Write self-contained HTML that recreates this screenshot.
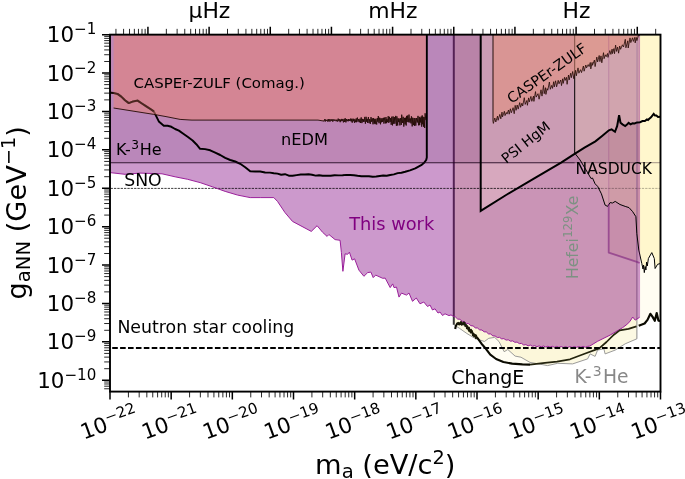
<!DOCTYPE html>
<html><head><meta charset="utf-8"><title>Axion-neutron coupling limits</title>
<style>html,body{margin:0;padding:0;background:#fff}svg{display:block;will-change:transform}</style></head>
<body>
<svg width="685" height="479" viewBox="0 0 685 479" font-family="'DejaVu Sans', 'Liberation Sans', sans-serif">
<rect width="685" height="479" fill="#fff"/>
<defs><clipPath id="ax"><rect x="110.00" y="34.65" width="550.50" height="356.95"/></clipPath></defs>
<g clip-path="url(#ax)" stroke-linejoin="round">
<polygon points="455.2,329.0 455.8,326.0 457.4,323.3 459.0,324.2 460.5,322.6 462.0,324.0 464.0,323.3 466.0,325.5 468.4,328.4 474.2,334.9 477.9,338.6 481.5,343.7 485.9,348.8 490.3,354.7 496.1,359.0 503.4,362.0 512.2,363.6 522.4,364.4 530.0,364.6 545.0,362.9 557.0,361.6 570.0,359.3 584.6,353.8 599.2,348.4 606.5,342.0 613.9,334.7 619.7,330.4 628.5,328.9 636.5,326.4 638.7,325.7 644.6,323.5 647.5,319.9 650.4,313.8 652.6,316.9 654.8,320.8 656.7,313.1 658.4,320.6 660.5,321.0 660.5,32.6 455.2,32.6" fill="#fff6b8" fill-opacity="0.18"/>
<polygon points="453.8,34.6 453.8,324.7 459.6,328.4 466.9,333.5 474.2,337.9 484.4,341.5 488.8,338.3 494.7,337.4 499.0,341.5 504.2,351.7 507.8,349.5 515.1,356.1 520.9,357.2 530.0,362.4 540.2,364.2 547.5,365.6 557.7,363.3 572.6,363.9 587.6,358.9 590.1,353.9 595.1,356.4 597.6,350.1 603.9,348.8 605.1,353.9 615.2,350.1 625.2,343.8 636.9,338.8 636.9,34.6 636.9,32.6 453.8,32.6" fill="#f5e9a0" fill-opacity="0.29"/>
<polygon points="574.7,34.6 574.7,153.0 580.1,160.0 587.6,172.6 591.0,178.5 592.5,178.0 595.1,183.8 597.6,186.3 601.4,193.8 605.1,205.1 607.6,206.4 610.1,202.6 612.5,203.0 615.2,201.4 620.0,204.5 625.2,206.4 629.0,207.6 632.7,211.7 635.9,216.7 636.8,233.4 638.8,250.1 641.8,263.5 643.0,269.0 643.6,265.0 644.3,272.6 645.2,266.5 645.9,270.0 646.6,262.0 647.3,266.0 648.4,258.5 651.8,252.6 654.3,258.5 655.1,268.5 657.6,264.3 660.5,263.5 660.5,32.6 574.7,32.6" fill="#fff0a0" fill-opacity="0.45"/>
<rect x="110.0" y="34.6" width="529.6" height="128.0" fill="#555" fill-opacity="0.17"/>
<polygon points="608.7,34.6 608.7,252.6 636.8,261.8 639.6,263.0 639.6,34.6" fill="#d8a860" fill-opacity="0.13"/>
<polyline points="453.8,324.7 459.6,328.4 466.9,333.5 474.2,337.9 484.4,341.5 488.8,338.3 494.7,337.4 499.0,341.5 504.2,351.7 507.8,349.5 515.1,356.1 520.9,357.2 530.0,362.4 540.2,364.2 547.5,365.6 557.7,363.3 572.6,363.9 587.6,358.9 590.1,353.9 595.1,356.4 597.6,350.1 603.9,348.8 605.1,353.9 615.2,350.1 625.2,343.8 636.9,338.8" fill="none" stroke="#909090" stroke-width="0.9" stroke-opacity="1" />
<polyline points="453.8,34.6 453.8,324.7" fill="none" stroke="#3a3a3a" stroke-width="2.0" stroke-opacity="1" />
<polyline points="636.9,338.8 636.9,34.6" fill="none" stroke="#8a8a8a" stroke-width="1.0" stroke-opacity="1" />
<polygon points="110.0,172.6 125.0,174.3 140.0,173.1 162.0,173.8 175.1,176.8 187.6,179.3 200.1,182.6 212.7,186.9 225.2,191.4 237.7,195.1 250.2,197.6 260.2,197.6 273.8,197.6 277.5,201.4 285.0,212.6 292.5,221.4 311.3,231.4 317.1,225.7 322.6,232.3 327.1,236.4 328.9,234.5 335.1,239.6 340.1,240.3 341.4,252.6 342.9,271.3 345.1,253.8 347.6,254.3 349.4,252.1 352.1,260.1 354.6,258.8 358.9,270.1 363.9,276.3 367.7,272.6 370.9,272.1 373.2,277.6 375.7,275.1 382.7,278.3 385.2,278.1 390.2,287.6 392.7,283.9 394.0,287.6 396.5,287.1 399.0,297.1 401.5,293.1 406.5,295.1 409.0,293.0 412.5,301.3 416.3,298.0 420.0,303.8 423.8,302.0 427.5,306.5 430.0,305.0 432.5,310.0 435.0,308.8 438.0,313.0 440.0,312.0 442.5,315.5 445.0,313.8 449.0,315.6 451.0,314.9 453.8,316.6 455.5,317.0 457.7,319.1 459.9,319.3 462.1,321.3 464.3,321.5 466.5,323.5 468.7,323.7 470.9,325.7 473.1,325.9 475.3,327.9 477.5,328.0 479.7,329.9 481.9,330.0 484.1,331.8 486.3,331.9 488.5,333.9 490.7,334.0 492.9,335.9 495.1,336.0 497.3,337.5 499.5,337.3 501.7,338.9 503.9,338.6 506.1,340.1 508.3,339.8 510.5,341.2 512.7,340.9 514.9,342.3 517.1,342.1 519.3,343.6 521.5,343.4 523.7,345.0 525.9,344.6 528.1,345.8 530.3,345.1 532.5,346.3 534.7,345.7 536.9,346.7 539.1,345.9 541.3,346.9 543.5,346.0 545.7,347.0 547.9,346.2 550.1,347.2 552.3,346.3 554.5,347.3 556.7,346.4 558.9,347.4 561.1,346.5 563.3,347.5 565.5,346.6 567.7,347.5 569.9,346.6 572.1,347.5 574.3,346.5 576.5,347.4 578.7,346.5 580.9,347.3 583.1,346.4 585.3,347.3 587.5,346.4 589.7,346.1 597.6,341.3 610.1,335.1 622.7,327.6 627.7,323.8 630.2,321.0 632.7,317.0 635.2,320.1 637.0,319.0 639.6,317.3 639.6,32.6 110.0,32.6" fill="#800080" fill-opacity="0.40"/>
<polygon points="574.7,34.6 574.7,153.0 580.1,160.0 587.6,172.6 591.0,178.5 592.5,178.0 595.1,183.8 597.6,186.3 601.4,193.8 605.1,205.1 607.6,206.4 610.1,202.6 612.5,203.0 615.2,201.4 620.0,204.5 625.2,206.4 629.0,207.6 632.7,211.7 635.9,216.7 636.8,233.4 636.9,234.0 636.9,32.6 574.7,32.6" fill="#fff6e6" fill-opacity="0.14"/>
<polygon points="480.7,34.6 480.7,210.9 506.1,195.0 533.0,179.2 561.1,162.7 575.0,153.6 584.5,147.6 595.4,141.4 602.1,136.0 608.9,130.3 611.6,129.4 615.0,131.8 617.1,126.2 619.1,115.2 620.5,122.8 622.5,124.4 625.2,126.0 627.0,124.6 628.6,122.9 630.6,124.3 632.5,123.3 634.7,123.5 637.0,122.4 639.6,122.2 639.6,32.6 480.7,32.6" fill="#f4d8d2" fill-opacity="0.30"/>
<polyline points="574.7,34.6 574.7,153.0 580.1,160.0 587.6,172.6 591.0,178.5 592.5,178.0 595.1,183.8 597.6,186.3 601.4,193.8 605.1,205.1 607.6,206.4 610.1,202.6 612.5,203.0 615.2,201.4 620.0,204.5 625.2,206.4 629.0,207.6 632.7,211.7 635.9,216.7 636.8,233.4 638.8,250.1 641.8,263.5 643.0,269.0 643.6,265.0 644.3,272.6 645.2,266.5 645.9,270.0 646.6,262.0 647.3,266.0 648.4,258.5 651.8,252.6 654.3,258.5 655.1,268.5 657.6,264.3 660.5,263.5" fill="none" stroke="#000" stroke-width="1.0" stroke-opacity="1" />
<polygon points="493.0,34.6 493.0,121.5 493.4,123.4 494.8,118.0 495.8,122.0 497.5,116.1 498.1,120.3 499.8,114.4 500.8,118.8 502.0,112.1 502.5,116.9 504.4,111.3 505.0,115.6 506.3,112.5 507.0,114.1 508.5,110.0 509.2,114.2 510.4,108.8 511.3,112.8 513.1,107.7 514.2,113.7 515.2,105.4 516.1,110.3 517.2,105.0 518.2,109.1 519.7,102.6 520.6,107.3 521.9,103.2 522.7,106.0 524.3,97.7 525.2,104.4 526.8,100.5 527.4,105.3 528.6,97.9 529.3,101.9 530.9,96.4 531.8,101.3 533.5,96.1 533.9,101.4 535.5,91.6 536.2,97.1 538.0,93.7 539.1,99.2 541.0,89.8 542.0,96.1 543.5,85.4 544.2,93.7 545.5,87.7 545.9,94.4 547.1,88.6 547.8,90.2 549.4,82.0 550.3,89.3 551.7,85.4 552.5,88.4 553.7,81.7 554.3,86.9 555.6,80.8 556.6,86.8 558.2,80.3 559.0,83.8 560.7,80.0 561.5,85.6 562.6,78.8 563.2,83.4 564.5,77.3 565.2,80.4 566.4,77.3 567.1,84.3 568.5,75.0 569.2,79.9 570.7,73.2 571.4,77.7 572.7,71.5 573.8,78.7 575.6,70.3 576.3,75.8 578.0,67.9 578.9,73.2 580.5,69.7 581.5,72.6 583.4,66.0 584.1,71.2 585.8,65.0 586.5,67.9 588.2,64.6 589.1,66.6 590.3,62.5 590.8,68.9 592.1,62.4 592.5,65.3 594.4,60.1 595.1,66.6 596.8,57.1 597.6,61.9 599.2,55.5 599.9,61.6 601.0,55.9 601.8,62.8 603.5,52.7 604.1,58.7 605.3,54.8 606.2,56.7 607.5,53.5 608.0,57.4 609.8,50.6 610.9,54.4 612.1,49.1 612.5,53.6 613.9,48.6 614.5,53.7 615.6,45.1 616.5,51.4 617.6,47.1 618.6,53.2 619.7,46.0 620.6,49.3 622.4,44.8 623.5,47.0 625.3,39.3 625.9,47.8 627.8,40.8 628.2,48.0 630.0,37.9 630.8,42.6 632.5,37.8 633.4,41.4 634.7,37.4 635.2,42.9 636.2,37.4 636.9,40.6 638.8,34.1 639.6,36.1 639.6,32.6 493.0,32.6" fill="#e58f7a" fill-opacity="0.55"/>
<polygon points="110.0,92.6 113.8,93.1 117.5,93.9 121.3,96.6 125.0,100.2 128.8,103.1 133.2,101.4 137.6,100.6 141.9,103.5 146.3,106.4 150.1,108.8 153.8,111.4 158.8,121.4 163.8,125.8 167.6,125.8 171.4,126.8 175.1,129.0 178.9,130.6 182.6,133.3 187.6,136.8 192.6,140.5 196.3,144.2 200.1,148.8 205.1,149.1 210.2,150.3 215.2,152.6 220.2,155.0 225.2,157.9 230.2,160.0 235.2,161.5 240.2,163.8 245.2,167.2 250.2,171.3 255.2,171.5 260.2,171.5 265.1,172.5 270.0,172.6 273.8,173.2 277.5,173.6 281.2,174.7 285.0,174.2 288.8,175.7 292.5,175.8 296.7,175.1 300.8,174.5 305.0,174.5 308.5,174.3 312.0,174.8 315.6,175.6 319.1,175.2 322.6,175.8 326.6,175.8 330.6,175.7 334.6,175.3 338.6,175.4 342.6,175.2 346.4,174.9 350.1,175.0 353.9,175.3 357.6,175.8 361.4,176.2 365.1,176.2 368.9,176.3 372.7,176.8 376.2,176.5 379.7,176.0 383.2,175.5 386.7,175.7 390.2,175.0 393.9,174.4 397.7,173.1 401.4,172.7 405.2,171.8 410.0,170.4 415.3,168.4 421.2,165.2 424.4,162.4 426.2,160.0 426.8,157.5 426.8,34.6 426.8,32.6 110.0,32.6" fill="#ff8a8a" fill-opacity="0.07"/>
<polyline points="110.0,92.6 113.8,93.1 117.5,93.9 121.3,96.6 125.0,100.2 128.8,103.1 133.2,101.4 137.6,100.6 141.9,103.5 146.3,106.4 150.1,108.8 153.8,111.4 158.8,121.4 163.8,125.8 167.6,125.8 171.4,126.8 175.1,129.0 178.9,130.6 182.6,133.3 187.6,136.8 192.6,140.5 196.3,144.2 200.1,148.8 205.1,149.1 210.2,150.3 215.2,152.6 220.2,155.0 225.2,157.9 230.2,160.0 235.2,161.5 240.2,163.8 245.2,167.2 250.2,171.3 255.2,171.5 260.2,171.5 265.1,172.5 270.0,172.6 273.8,173.2 277.5,173.6 281.2,174.7 285.0,174.2 288.8,175.7 292.5,175.8 296.7,175.1 300.8,174.5 305.0,174.5 308.5,174.3 312.0,174.8 315.6,175.6 319.1,175.2 322.6,175.8 326.6,175.8 330.6,175.7 334.6,175.3 338.6,175.4 342.6,175.2 346.4,174.9 350.1,175.0 353.9,175.3 357.6,175.8 361.4,176.2 365.1,176.2 368.9,176.3 372.7,176.8 376.2,176.5 379.7,176.0 383.2,175.5 386.7,175.7 390.2,175.0 393.9,174.4 397.7,173.1 401.4,172.7 405.2,171.8 410.0,170.4 415.3,168.4 421.2,165.2 424.4,162.4 426.2,160.0 426.8,157.5 426.8,34.6" fill="none" stroke="#000" stroke-width="1.95" stroke-opacity="1" />
<polygon points="113.6,108.0 153.8,114.4 166.0,116.6 180.1,119.4 190.0,120.0 192.0,120.1 198.0,120.1 204.0,120.1 210.0,120.1 216.0,120.1 222.0,120.1 228.0,120.1 234.0,120.1 240.0,120.1 246.0,120.1 252.0,120.1 258.0,120.1 264.0,120.1 270.0,120.1 276.0,120.1 282.0,120.1 288.0,120.1 294.0,120.1 300.0,120.1 306.0,120.1 312.0,120.1 318.0,120.1 324.0,121.1 324.7,119.2 325.2,121.6 325.7,119.5 326.4,120.8 327.0,119.9 327.6,121.5 328.2,119.0 328.8,121.4 329.4,119.3 330.0,121.6 330.7,119.4 331.4,120.8 332.0,119.1 332.8,121.7 333.3,119.4 334.0,120.8 334.5,119.6 335.0,120.8 335.7,119.7 336.2,121.3 336.9,119.7 337.5,121.5 338.2,118.6 338.9,121.2 339.5,119.3 340.2,122.2 340.7,119.5 341.2,121.2 341.8,118.9 342.3,120.8 342.8,119.2 343.4,122.4 344.1,118.9 344.7,122.0 345.2,118.2 345.9,122.4 346.6,119.0 347.1,121.1 347.7,119.6 348.2,121.3 348.6,119.0 349.1,120.9 349.5,119.5 350.1,121.0 350.8,118.5 351.2,121.5 351.8,118.9 352.2,122.7 353.0,118.7 353.6,121.2 354.0,118.9 354.5,122.8 355.0,119.5 355.7,122.2 356.2,118.4 356.6,122.2 357.4,117.6 358.0,121.7 358.6,119.1 359.3,122.3 360.0,118.7 360.5,123.0 361.2,117.4 361.9,123.1 362.6,118.9 363.2,122.0 363.6,119.4 364.1,121.8 364.8,116.9 365.4,123.7 366.1,116.8 366.7,121.8 367.2,118.9 367.6,122.9 368.4,117.0 369.0,123.1 369.7,119.1 370.3,123.9 371.0,117.1 371.6,121.8 372.3,118.3 373.0,124.3 373.6,118.1 374.3,123.6 374.8,118.9 375.2,124.2 375.9,118.8 376.7,124.5 377.3,118.1 377.9,121.8 378.3,116.0 379.0,123.2 379.7,117.7 380.5,124.3 380.9,118.3 381.4,122.3 382.1,118.2 382.6,121.9 383.4,117.8 383.9,123.6 384.7,117.5 385.4,123.4 386.0,117.1 386.5,123.2 386.9,119.0 387.6,122.2 388.2,116.2 388.8,122.9 389.4,116.8 390.1,122.0 390.7,118.0 391.2,124.8 391.8,116.7 392.5,125.4 393.1,116.4 393.7,123.8 394.3,117.0 394.9,123.7 395.7,115.9 396.4,125.8 396.9,116.4 397.7,125.5 398.1,118.3 398.7,122.1 399.2,118.5 399.9,125.4 400.6,118.1 401.3,124.9 401.7,114.7 402.5,122.9 403.2,116.8 403.8,126.6 404.5,117.9 405.1,124.4 405.6,117.7 406.2,125.5 406.6,115.9 407.1,122.0 407.7,115.5 408.3,122.3 409.0,114.6 409.8,122.5 410.3,118.4 411.0,123.4 411.4,116.3 412.2,126.4 412.7,117.7 413.4,125.1 414.1,118.0 414.5,125.8 415.1,118.1 415.8,125.6 416.6,118.0 417.3,122.5 418.0,115.9 418.5,125.3 419.3,116.9 419.7,125.2 420.2,117.7 420.7,122.5 421.2,116.5 421.7,126.7 422.2,115.4 422.7,124.3 423.1,116.8 423.5,126.7 424.1,117.1 424.7,128.0 425.1,113.3 425.8,120.1 425.8,32.6 113.6,32.6" fill="#e58378" fill-opacity="0.55"/>
<line x1="110.0" y1="162.7" x2="574.7" y2="162.7" stroke="#1a001a" stroke-width="1.1" stroke-opacity="0.85"/>
<line x1="574.7" y1="162.7" x2="660.5" y2="162.7" stroke="#1a001a" stroke-width="1.0" stroke-opacity="0.4"/>
<line x1="110.0" y1="188.4" x2="601.5" y2="188.4" stroke="#000" stroke-width="0.85" stroke-opacity="0.9" stroke-dasharray="2.3 1.06" stroke-dashoffset="-0.6"/>
<line x1="601.5" y1="188.4" x2="660.5" y2="188.4" stroke="#000" stroke-width="1.0" stroke-opacity="0.3" stroke-dasharray="2.3 1.06"/>
<polyline points="113.6,108.0 153.8,114.4 166.0,116.6 180.1,119.4 190.0,120.0 192.0,120.1 198.0,120.1 204.0,120.1 210.0,120.1 216.0,120.1 222.0,120.1 228.0,120.1 234.0,120.1 240.0,120.1 246.0,120.1 252.0,120.1 258.0,120.1 264.0,120.1 270.0,120.1 276.0,120.1 282.0,120.1 288.0,120.1 294.0,120.1 300.0,120.1 306.0,120.1 312.0,120.1 318.0,120.1 324.0,121.1 324.7,119.2 325.2,121.6 325.7,119.5 326.4,120.8 327.0,119.9 327.6,121.5 328.2,119.0 328.8,121.4 329.4,119.3 330.0,121.6 330.7,119.4 331.4,120.8 332.0,119.1 332.8,121.7 333.3,119.4 334.0,120.8 334.5,119.6 335.0,120.8 335.7,119.7 336.2,121.3 336.9,119.7 337.5,121.5 338.2,118.6 338.9,121.2 339.5,119.3 340.2,122.2 340.7,119.5 341.2,121.2 341.8,118.9 342.3,120.8 342.8,119.2 343.4,122.4 344.1,118.9 344.7,122.0 345.2,118.2 345.9,122.4 346.6,119.0 347.1,121.1 347.7,119.6 348.2,121.3 348.6,119.0 349.1,120.9 349.5,119.5 350.1,121.0 350.8,118.5 351.2,121.5 351.8,118.9 352.2,122.7 353.0,118.7 353.6,121.2 354.0,118.9 354.5,122.8 355.0,119.5 355.7,122.2 356.2,118.4 356.6,122.2 357.4,117.6 358.0,121.7 358.6,119.1 359.3,122.3 360.0,118.7 360.5,123.0 361.2,117.4 361.9,123.1 362.6,118.9 363.2,122.0 363.6,119.4 364.1,121.8 364.8,116.9 365.4,123.7 366.1,116.8 366.7,121.8 367.2,118.9 367.6,122.9 368.4,117.0 369.0,123.1 369.7,119.1 370.3,123.9 371.0,117.1 371.6,121.8 372.3,118.3 373.0,124.3 373.6,118.1 374.3,123.6 374.8,118.9 375.2,124.2 375.9,118.8 376.7,124.5 377.3,118.1 377.9,121.8 378.3,116.0 379.0,123.2 379.7,117.7 380.5,124.3 380.9,118.3 381.4,122.3 382.1,118.2 382.6,121.9 383.4,117.8 383.9,123.6 384.7,117.5 385.4,123.4 386.0,117.1 386.5,123.2 386.9,119.0 387.6,122.2 388.2,116.2 388.8,122.9 389.4,116.8 390.1,122.0 390.7,118.0 391.2,124.8 391.8,116.7 392.5,125.4 393.1,116.4 393.7,123.8 394.3,117.0 394.9,123.7 395.7,115.9 396.4,125.8 396.9,116.4 397.7,125.5 398.1,118.3 398.7,122.1 399.2,118.5 399.9,125.4 400.6,118.1 401.3,124.9 401.7,114.7 402.5,122.9 403.2,116.8 403.8,126.6 404.5,117.9 405.1,124.4 405.6,117.7 406.2,125.5 406.6,115.9 407.1,122.0 407.7,115.5 408.3,122.3 409.0,114.6 409.8,122.5 410.3,118.4 411.0,123.4 411.4,116.3 412.2,126.4 412.7,117.7 413.4,125.1 414.1,118.0 414.5,125.8 415.1,118.1 415.8,125.6 416.6,118.0 417.3,122.5 418.0,115.9 418.5,125.3 419.3,116.9 419.7,125.2 420.2,117.7 420.7,122.5 421.2,116.5 421.7,126.7 422.2,115.4 422.7,124.3 423.1,116.8 423.5,126.7 424.1,117.1 424.7,128.0 425.1,113.3 425.8,120.1" fill="none" stroke="#220a04" stroke-width="0.9" stroke-opacity="1" />
<polyline points="493.0,121.5 493.4,123.4 494.8,118.0 495.8,122.0 497.5,116.1 498.1,120.3 499.8,114.4 500.8,118.8 502.0,112.1 502.5,116.9 504.4,111.3 505.0,115.6 506.3,112.5 507.0,114.1 508.5,110.0 509.2,114.2 510.4,108.8 511.3,112.8 513.1,107.7 514.2,113.7 515.2,105.4 516.1,110.3 517.2,105.0 518.2,109.1 519.7,102.6 520.6,107.3 521.9,103.2 522.7,106.0 524.3,97.7 525.2,104.4 526.8,100.5 527.4,105.3 528.6,97.9 529.3,101.9 530.9,96.4 531.8,101.3 533.5,96.1 533.9,101.4 535.5,91.6 536.2,97.1 538.0,93.7 539.1,99.2 541.0,89.8 542.0,96.1 543.5,85.4 544.2,93.7 545.5,87.7 545.9,94.4 547.1,88.6 547.8,90.2 549.4,82.0 550.3,89.3 551.7,85.4 552.5,88.4 553.7,81.7 554.3,86.9 555.6,80.8 556.6,86.8 558.2,80.3 559.0,83.8 560.7,80.0 561.5,85.6 562.6,78.8 563.2,83.4 564.5,77.3 565.2,80.4 566.4,77.3 567.1,84.3 568.5,75.0 569.2,79.9 570.7,73.2 571.4,77.7 572.7,71.5 573.8,78.7 575.6,70.3 576.3,75.8 578.0,67.9 578.9,73.2 580.5,69.7 581.5,72.6 583.4,66.0 584.1,71.2 585.8,65.0 586.5,67.9 588.2,64.6 589.1,66.6 590.3,62.5 590.8,68.9 592.1,62.4 592.5,65.3 594.4,60.1 595.1,66.6 596.8,57.1 597.6,61.9 599.2,55.5 599.9,61.6 601.0,55.9 601.8,62.8 603.5,52.7 604.1,58.7 605.3,54.8 606.2,56.7 607.5,53.5 608.0,57.4 609.8,50.6 610.9,54.4 612.1,49.1 612.5,53.6 613.9,48.6 614.5,53.7 615.6,45.1 616.5,51.4 617.6,47.1 618.6,53.2 619.7,46.0 620.6,49.3 622.4,44.8 623.5,47.0 625.3,39.3 625.9,47.8 627.8,40.8 628.2,48.0 630.0,37.9 630.8,42.6 632.5,37.8 633.4,41.4 634.7,37.4 635.2,42.9 636.2,37.4 636.9,40.6 638.8,34.1 639.6,36.1" fill="none" stroke="#240a04" stroke-width="0.8" stroke-opacity="1" stroke-linejoin="miter"/>
<polyline points="493.0,34.6 493.0,121.5" fill="none" stroke="#1c0804" stroke-width="1.0" stroke-opacity="0.95" />
<polyline points="608.7,34.6 608.7,205.0" fill="none" stroke="#7b1f7b" stroke-width="1.2" stroke-opacity="0.2" />
<polyline points="608.7,204.0 608.7,252.6 636.8,261.8 639.6,263.0" fill="none" stroke="#7b1f7b" stroke-width="1.8" stroke-opacity="0.6" />
<polyline points="110.0,172.6 125.0,174.3 140.0,173.1 162.0,173.8 175.1,176.8 187.6,179.3 200.1,182.6 212.7,186.9 225.2,191.4 237.7,195.1 250.2,197.6 260.2,197.6 273.8,197.6 277.5,201.4 285.0,212.6 292.5,221.4 311.3,231.4 317.1,225.7 322.6,232.3 327.1,236.4 328.9,234.5 335.1,239.6 340.1,240.3 341.4,252.6 342.9,271.3 345.1,253.8 347.6,254.3 349.4,252.1 352.1,260.1 354.6,258.8 358.9,270.1 363.9,276.3 367.7,272.6 370.9,272.1 373.2,277.6 375.7,275.1 382.7,278.3 385.2,278.1 390.2,287.6 392.7,283.9 394.0,287.6 396.5,287.1 399.0,297.1 401.5,293.1 406.5,295.1 409.0,293.0 412.5,301.3 416.3,298.0 420.0,303.8 423.8,302.0 427.5,306.5 430.0,305.0 432.5,310.0 435.0,308.8 438.0,313.0 440.0,312.0 442.5,315.5 445.0,313.8 449.0,315.6 451.0,314.9 453.8,316.6 455.5,317.0 457.7,319.1 459.9,319.3 462.1,321.3 464.3,321.5 466.5,323.5 468.7,323.7 470.9,325.7 473.1,325.9 475.3,327.9 477.5,328.0 479.7,329.9 481.9,330.0 484.1,331.8 486.3,331.9 488.5,333.9 490.7,334.0 492.9,335.9 495.1,336.0 497.3,337.5 499.5,337.3 501.7,338.9 503.9,338.6 506.1,340.1 508.3,339.8 510.5,341.2 512.7,340.9 514.9,342.3 517.1,342.1 519.3,343.6 521.5,343.4 523.7,345.0 525.9,344.6 528.1,345.8 530.3,345.1 532.5,346.3 534.7,345.7 536.9,346.7 539.1,345.9 541.3,346.9 543.5,346.0 545.7,347.0 547.9,346.2 550.1,347.2 552.3,346.3 554.5,347.3 556.7,346.4 558.9,347.4 561.1,346.5 563.3,347.5 565.5,346.6 567.7,347.5 569.9,346.6 572.1,347.5 574.3,346.5 576.5,347.4 578.7,346.5 580.9,347.3 583.1,346.4 585.3,347.3 587.5,346.4 589.7,346.1 597.6,341.3 610.1,335.1 622.7,327.6 627.7,323.8 630.2,321.0 632.7,317.0 635.2,320.1 637.0,319.0 639.6,317.3" fill="none" stroke="#9a1f9a" stroke-width="1.0" stroke-opacity="1" />
<polyline points="639.6,317.3 639.6,34.6" fill="none" stroke="#990099" stroke-width="1.0" stroke-opacity="0.25" />
<polyline points="480.7,34.6 480.7,210.9 506.1,195.0 533.0,179.2 561.1,162.7 575.0,153.6 584.5,147.6 595.4,141.4 602.1,136.0 608.9,130.3 611.6,129.4 615.0,131.8 617.1,126.2 619.1,115.2 620.5,122.8 622.5,124.4 625.2,126.0 627.0,124.6 628.6,122.9 630.6,124.3 632.5,123.3 634.7,123.5 637.0,122.4 640.1,122.2 642.5,121.0 644.9,121.0 646.9,119.4 648.0,120.0 649.0,119.0 651.0,117.4 653.7,113.9 655.0,115.6 656.4,115.6 658.0,117.0 660.5,116.7" fill="none" stroke="#000" stroke-width="2.0" stroke-opacity="1" stroke-linejoin="miter"/>
<polyline points="110.0,92.6 113.8,93.1 117.5,93.9 121.3,96.6 125.0,100.2 128.8,103.1 133.2,101.4 137.6,100.6 141.9,103.5 146.3,106.4 150.1,108.8 153.8,111.4" fill="none" stroke="#2a100a" stroke-width="2.0" stroke-opacity="0.6" />
<polyline points="530.0,364.6 545.0,362.9 557.0,361.6 570.0,359.3 584.6,353.8 599.2,348.4 606.5,342.0 613.9,334.7 619.7,330.4 628.5,328.9 636.5,326.4" fill="none" stroke="#24240e" stroke-width="1.7" stroke-opacity="1" />
<polyline points="455.2,329.0 455.8,326.0 457.4,323.3 459.0,324.2 460.5,322.6 462.0,324.0 464.0,323.3 466.0,325.5 468.4,328.4 474.2,334.9 477.9,338.6 481.5,343.7 485.9,348.8 490.3,354.7 496.1,359.0 503.4,362.0 512.2,363.6 522.4,364.4 530.0,364.6" fill="none" stroke="#0a0a00" stroke-width="2.1" stroke-opacity="1" />
<polyline points="638.7,325.7 644.6,323.5 647.5,319.9 650.4,313.8 652.6,316.9 654.8,320.8 656.7,313.1 658.4,320.6 660.5,321.0" fill="none" stroke="#0a0a00" stroke-width="2.2" stroke-opacity="1" />
<polyline points="457.5,324.3 457.9,323.3 458.3,322.6 458.7,323.7 459.1,324.6 459.5,324.4 459.9,324.3 460.3,324.3 460.7,323.5 461.1,321.5 461.5,325.0 461.9,323.0 462.3,324.2 462.7,323.2 463.1,324.7 463.5,322.2 463.9,322.2 464.3,322.5 464.7,322.5 465.1,326.2 465.5,325.3 465.9,324.6 466.3,325.4 466.7,328.5 467.1,326.9 467.5,326.1 467.9,329.2 468.3,329.0 468.7,330.9 469.1,327.4 469.5,329.5 469.9,331.5 470.3,332.0 470.7,332.8 471.1,329.4 471.5,331.0 471.9,330.6 472.3,331.4 472.7,335.3 473.1,334.0 473.5,336.0 473.9,334.0 474.3,336.6 474.7,335.2 475.1,334.7 475.5,337.4 475.9,338.6 476.3,335.3 476.7,337.8" fill="none" stroke="#1a1a08" stroke-width="1.5" stroke-opacity="1" />
<line x1="110.0" y1="348.0" x2="660.5" y2="348.0" stroke="#000" stroke-width="1.9" stroke-dasharray="5.6 2.3" stroke-dashoffset="-2.2"/>
</g>
<path d="M110.00 380.25h-8M110.00 341.85h-8M110.00 303.45h-8M110.00 265.05h-8M110.00 226.65h-8M110.00 188.25h-8M110.00 149.85h-8M110.00 111.45h-8M110.00 73.05h-8M110.00 34.65h-8M110.00 391.60v8M171.17 391.60v8M232.33 391.60v8M293.50 391.60v8M354.67 391.60v8M415.83 391.60v8M477.00 391.60v8M538.17 391.60v8M599.33 391.60v8M660.50 391.60v8M147.93 34.65v-8M209.10 34.65v-8M270.27 34.65v-8M331.43 34.65v-8M392.60 34.65v-8M453.77 34.65v-8M514.93 34.65v-8M576.10 34.65v-8M637.27 34.65v-8" stroke="#000" stroke-width="1.5" fill="none"/>
<path d="M110.00 388.77h-5.8M110.00 386.20h-5.8M110.00 383.97h-5.8M110.00 382.01h-5.8M110.00 368.69h-5.8M110.00 361.93h-5.8M110.00 357.13h-5.8M110.00 353.41h-5.8M110.00 350.37h-5.8M110.00 347.80h-5.8M110.00 345.57h-5.8M110.00 343.61h-5.8M110.00 330.29h-5.8M110.00 323.53h-5.8M110.00 318.73h-5.8M110.00 315.01h-5.8M110.00 311.97h-5.8M110.00 309.40h-5.8M110.00 307.17h-5.8M110.00 305.21h-5.8M110.00 291.89h-5.8M110.00 285.13h-5.8M110.00 280.33h-5.8M110.00 276.61h-5.8M110.00 273.57h-5.8M110.00 271.00h-5.8M110.00 268.77h-5.8M110.00 266.81h-5.8M110.00 253.49h-5.8M110.00 246.73h-5.8M110.00 241.93h-5.8M110.00 238.21h-5.8M110.00 235.17h-5.8M110.00 232.60h-5.8M110.00 230.37h-5.8M110.00 228.41h-5.8M110.00 215.09h-5.8M110.00 208.33h-5.8M110.00 203.53h-5.8M110.00 199.81h-5.8M110.00 196.77h-5.8M110.00 194.20h-5.8M110.00 191.97h-5.8M110.00 190.01h-5.8M110.00 176.69h-5.8M110.00 169.93h-5.8M110.00 165.13h-5.8M110.00 161.41h-5.8M110.00 158.37h-5.8M110.00 155.80h-5.8M110.00 153.57h-5.8M110.00 151.61h-5.8M110.00 138.29h-5.8M110.00 131.53h-5.8M110.00 126.73h-5.8M110.00 123.01h-5.8M110.00 119.97h-5.8M110.00 117.40h-5.8M110.00 115.17h-5.8M110.00 113.21h-5.8M110.00 99.89h-5.8M110.00 93.13h-5.8M110.00 88.33h-5.8M110.00 84.61h-5.8M110.00 81.57h-5.8M110.00 79.00h-5.8M110.00 76.77h-5.8M110.00 74.81h-5.8M110.00 61.49h-5.8M110.00 54.73h-5.8M110.00 49.93h-5.8M110.00 46.21h-5.8M110.00 43.17h-5.8M110.00 40.60h-5.8M110.00 38.37h-5.8M110.00 36.41h-5.8M128.41 391.60v5.8M139.18 391.60v5.8M146.83 391.60v5.8M152.75 391.60v5.8M157.60 391.60v5.8M161.69 391.60v5.8M165.24 391.60v5.8M168.37 391.60v5.8M189.58 391.60v5.8M200.35 391.60v5.8M207.99 391.60v5.8M213.92 391.60v5.8M218.76 391.60v5.8M222.86 391.60v5.8M226.41 391.60v5.8M229.53 391.60v5.8M250.75 391.60v5.8M261.52 391.60v5.8M269.16 391.60v5.8M275.09 391.60v5.8M279.93 391.60v5.8M284.03 391.60v5.8M287.57 391.60v5.8M290.70 391.60v5.8M311.91 391.60v5.8M322.68 391.60v5.8M330.33 391.60v5.8M336.25 391.60v5.8M341.10 391.60v5.8M345.19 391.60v5.8M348.74 391.60v5.8M351.87 391.60v5.8M373.08 391.60v5.8M383.85 391.60v5.8M391.49 391.60v5.8M397.42 391.60v5.8M402.26 391.60v5.8M406.36 391.60v5.8M409.91 391.60v5.8M413.03 391.60v5.8M434.25 391.60v5.8M445.02 391.60v5.8M452.66 391.60v5.8M458.59 391.60v5.8M463.43 391.60v5.8M467.53 391.60v5.8M471.07 391.60v5.8M474.20 391.60v5.8M495.41 391.60v5.8M506.18 391.60v5.8M513.83 391.60v5.8M519.75 391.60v5.8M524.60 391.60v5.8M528.69 391.60v5.8M532.24 391.60v5.8M535.37 391.60v5.8M556.58 391.60v5.8M567.35 391.60v5.8M574.99 391.60v5.8M580.92 391.60v5.8M585.76 391.60v5.8M589.86 391.60v5.8M593.41 391.60v5.8M596.53 391.60v5.8M617.75 391.60v5.8M628.52 391.60v5.8M636.16 391.60v5.8M642.09 391.60v5.8M646.93 391.60v5.8M651.03 391.60v5.8M654.57 391.60v5.8M657.70 391.60v5.8M115.95 34.65v-5.8M123.59 34.65v-5.8M129.52 34.65v-5.8M134.36 34.65v-5.8M138.46 34.65v-5.8M142.01 34.65v-5.8M145.13 34.65v-5.8M166.35 34.65v-5.8M177.12 34.65v-5.8M184.76 34.65v-5.8M190.69 34.65v-5.8M195.53 34.65v-5.8M199.63 34.65v-5.8M203.17 34.65v-5.8M206.30 34.65v-5.8M227.51 34.65v-5.8M238.28 34.65v-5.8M245.93 34.65v-5.8M251.85 34.65v-5.8M256.70 34.65v-5.8M260.79 34.65v-5.8M264.34 34.65v-5.8M267.47 34.65v-5.8M288.68 34.65v-5.8M299.45 34.65v-5.8M307.09 34.65v-5.8M313.02 34.65v-5.8M317.86 34.65v-5.8M321.96 34.65v-5.8M325.51 34.65v-5.8M328.63 34.65v-5.8M349.85 34.65v-5.8M360.62 34.65v-5.8M368.26 34.65v-5.8M374.19 34.65v-5.8M379.03 34.65v-5.8M383.13 34.65v-5.8M386.67 34.65v-5.8M389.80 34.65v-5.8M411.01 34.65v-5.8M421.78 34.65v-5.8M429.43 34.65v-5.8M435.35 34.65v-5.8M440.20 34.65v-5.8M444.29 34.65v-5.8M447.84 34.65v-5.8M450.97 34.65v-5.8M472.18 34.65v-5.8M482.95 34.65v-5.8M490.59 34.65v-5.8M496.52 34.65v-5.8M501.36 34.65v-5.8M505.46 34.65v-5.8M509.01 34.65v-5.8M512.13 34.65v-5.8M533.35 34.65v-5.8M544.12 34.65v-5.8M551.76 34.65v-5.8M557.69 34.65v-5.8M562.53 34.65v-5.8M566.63 34.65v-5.8M570.17 34.65v-5.8M573.30 34.65v-5.8M594.51 34.65v-5.8M605.28 34.65v-5.8M612.93 34.65v-5.8M618.85 34.65v-5.8M623.70 34.65v-5.8M627.79 34.65v-5.8M631.34 34.65v-5.8M634.47 34.65v-5.8M655.68 34.65v-5.8" stroke="#000" stroke-width="0.85" fill="none"/>
<rect x="110.00" y="34.65" width="550.50" height="356.95" fill="none" stroke="#000" stroke-width="1.9"/>
<text x="96.3" y="387.7" font-size="21.4" text-anchor="end">10<tspan font-size="15.1" dy="-7.9">−10</tspan></text>
<text x="96.3" y="349.3" font-size="21.4" text-anchor="end">10<tspan font-size="15.1" dy="-7.9">−9</tspan></text>
<text x="96.3" y="310.9" font-size="21.4" text-anchor="end">10<tspan font-size="15.1" dy="-7.9">−8</tspan></text>
<text x="96.3" y="272.5" font-size="21.4" text-anchor="end">10<tspan font-size="15.1" dy="-7.9">−7</tspan></text>
<text x="96.3" y="234.2" font-size="21.4" text-anchor="end">10<tspan font-size="15.1" dy="-7.9">−6</tspan></text>
<text x="96.3" y="195.8" font-size="21.4" text-anchor="end">10<tspan font-size="15.1" dy="-7.9">−5</tspan></text>
<text x="96.3" y="157.3" font-size="21.4" text-anchor="end">10<tspan font-size="15.1" dy="-7.9">−4</tspan></text>
<text x="96.3" y="118.9" font-size="21.4" text-anchor="end">10<tspan font-size="15.1" dy="-7.9">−3</tspan></text>
<text x="96.3" y="80.5" font-size="21.4" text-anchor="end">10<tspan font-size="15.1" dy="-7.9">−2</tspan></text>
<text x="96.3" y="42.1" font-size="21.4" text-anchor="end">10<tspan font-size="15.1" dy="-7.9">−1</tspan></text>
<text transform="translate(109.0 422.5) rotate(-20)" font-size="21.4" text-anchor="middle" x="0" y="7.5">10<tspan font-size="15.1" dy="-7.9">−22</tspan></text>
<text transform="translate(170.2 422.5) rotate(-20)" font-size="21.4" text-anchor="middle" x="0" y="7.5">10<tspan font-size="15.1" dy="-7.9">−21</tspan></text>
<text transform="translate(231.3 422.5) rotate(-20)" font-size="21.4" text-anchor="middle" x="0" y="7.5">10<tspan font-size="15.1" dy="-7.9">−20</tspan></text>
<text transform="translate(292.5 422.5) rotate(-20)" font-size="21.4" text-anchor="middle" x="0" y="7.5">10<tspan font-size="15.1" dy="-7.9">−19</tspan></text>
<text transform="translate(353.7 422.5) rotate(-20)" font-size="21.4" text-anchor="middle" x="0" y="7.5">10<tspan font-size="15.1" dy="-7.9">−18</tspan></text>
<text transform="translate(414.8 422.5) rotate(-20)" font-size="21.4" text-anchor="middle" x="0" y="7.5">10<tspan font-size="15.1" dy="-7.9">−17</tspan></text>
<text transform="translate(476.0 422.5) rotate(-20)" font-size="21.4" text-anchor="middle" x="0" y="7.5">10<tspan font-size="15.1" dy="-7.9">−16</tspan></text>
<text transform="translate(537.2 422.5) rotate(-20)" font-size="21.4" text-anchor="middle" x="0" y="7.5">10<tspan font-size="15.1" dy="-7.9">−15</tspan></text>
<text transform="translate(598.3 422.5) rotate(-20)" font-size="21.4" text-anchor="middle" x="0" y="7.5">10<tspan font-size="15.1" dy="-7.9">−14</tspan></text>
<text transform="translate(659.5 422.5) rotate(-20)" font-size="21.4" text-anchor="middle" x="0" y="7.5">10<tspan font-size="15.1" dy="-7.9">−13</tspan></text>
<text x="209.4" y="17.6" font-size="21.9" text-anchor="middle">μHz</text>
<text x="392.9" y="17.6" font-size="21.9" text-anchor="middle">mHz</text>
<text x="576.4" y="17.6" font-size="21.9" text-anchor="middle">Hz</text>
<text x="385.3" y="474" font-size="27.25" text-anchor="middle">m<tspan font-size="19.6" dy="4.3">a</tspan><tspan dy="-4.3"> (eV/c</tspan><tspan font-size="19.3" dy="-10.2">2</tspan><tspan dy="10.2">)</tspan></text>
<text transform="translate(25.6 212.8) rotate(-90)" font-size="27.25" text-anchor="middle">g<tspan font-size="19.6" dy="4.3">aNN</tspan><tspan dy="-4.3"> (GeV</tspan><tspan font-size="19.3" dy="-10.2">−1</tspan><tspan dy="10.2">)</tspan></text>
<text x="133.6" y="87.7" font-size="14.95">CASPEr-ZULF (Comag.)</text>
<text x="281.0" y="144.5" font-size="16.2">nEDM</text>
<text x="116.1" y="154.7" font-size="16.0">K-<tspan font-size="12.2" dy="-5.8" dx="0.6">3</tspan><tspan dy="5.8" dx="0.7">He</tspan></text>
<text x="124.2" y="186.4" font-size="17.3">SNO</text>
<text x="349.2" y="229.6" font-size="17.8" fill="#800080">This work</text>
<text x="117.4" y="332.6" font-size="17.35">Neutron star cooling</text>
<text x="451.3" y="384.0" font-size="19.0">ChangE</text>
<text x="574.4" y="382.8" font-size="18.7" fill="#888">K-<tspan font-size="14.0" dy="-6.7" dx="1.2">3</tspan><tspan dy="6.7" dx="1.5">He</tspan></text>
<text x="575.5" y="173.9" font-size="15.55">NASDUCK</text>
<text transform="translate(511.6 103.9) rotate(-35)" font-size="14.3">CASPEr-ZULF</text>
<text transform="translate(506.3 164.0) rotate(-38.5)" font-size="14">PSI HgM</text>
<text transform="translate(577.9 279.0) rotate(-90)" font-size="15.6" fill="#7d9183">Hefei<tspan font-size="11.6" dy="-5.6" dx="0.4">129</tspan><tspan dy="5.6" dx="0.5">Xe</tspan></text>
</svg>
</body></html>
